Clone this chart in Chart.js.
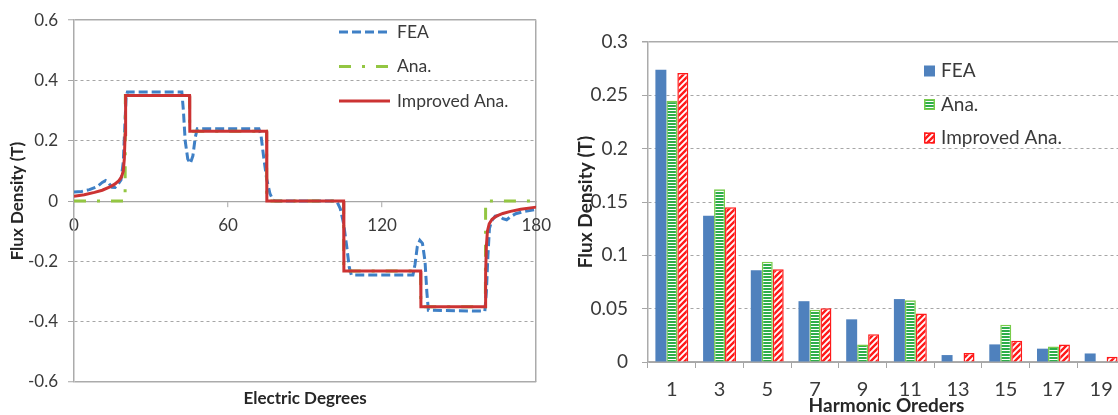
<!DOCTYPE html>
<html>
<head>
<meta charset="utf-8">
<script src="https://cdn.jsdelivr.net/npm/chart.js@4.4.1/dist/chart.umd.min.js"></script>
<style>
  html, body { margin: 0; padding: 0; background: #fff; overflow: hidden; width: 1118px; height: 415px; }
  .panel { position: absolute; top: 0; }
  #left-panel { left: 0; }
  #right-panel { left: 560px; }
</style>
</head>
<body>
<div class="panel" id="left-panel"><canvas id="waveChart" width="560" height="415"></canvas></div>
<div class="panel" id="right-panel"><canvas id="harmChart" width="575" height="415"></canvas></div>

<script>
// --------- Data: flux density waveform ---------
const degTicks = [0, 60, 120, 180];
const fluxTicks = [-0.6, -0.4, -0.2, 0, 0.2, 0.4, 0.6];

const feaDeg = [0, 3, 6, 9, 11, 12.3, 13.5, 14.8, 16, 17.3, 18.3, 19.2, 19.8, 20.3, 20.8, 42, 42.6, 43.3, 44.3, 45.3, 46.3, 47.2, 48,
  72, 72.8, 73.8, 75, 76.3, 77.5, 78.5, 101.5, 102.5, 103.7, 105, 106.2, 107.2, 108,
  132, 132.8, 133.7, 134.7, 135.7, 136.7, 137.4, 138, 160, 160.6, 161.2, 161.8, 162.7, 164, 165.5, 167, 168.5, 170, 172, 175, 180];
const feaVal = [0.030, 0.032, 0.038, 0.048, 0.062, 0.068, 0.060, 0.046, 0.045, 0.058, 0.070, 0.13, 0.25, 0.345, 0.362, 0.362, 0.30, 0.20, 0.14, 0.125, 0.15, 0.21, 0.24,
  0.24, 0.22, 0.15, 0.075, 0.025, 0.003, 0, 0, -0.003, -0.025, -0.075, -0.15, -0.22, -0.245,
  -0.245, -0.21, -0.15, -0.13, -0.14, -0.20, -0.30, -0.362, -0.365, -0.30, -0.18, -0.09, -0.065, -0.05, -0.048, -0.058, -0.062, -0.052, -0.042, -0.035, -0.028];

const anaDeg = [0, 19.9, 20, 45, 45.05, 75, 75.05, 105, 105.05, 135, 135.05, 160.2, 160.3, 180];
const anaVal = [0, 0, 0.35, 0.35, 0.232, 0.232, 0, 0, -0.232, -0.232, -0.35, -0.35, 0, 0];

const impDeg = [0, 4, 8, 11, 14, 16, 17.5, 18.5, 19.2, 19.6, 19.9, 20.1, 45, 45.1, 75, 75.1, 105, 105.1, 135, 135.1,
  160.1, 160.3, 160.6, 161, 161.7, 162.8, 164.5, 167, 170, 174, 180];
const impVal = [0.016, 0.021, 0.029, 0.036, 0.047, 0.057, 0.068, 0.08, 0.10, 0.14, 0.22, 0.35, 0.35, 0.232, 0.232, 0, 0, -0.232, -0.232, -0.35,
  -0.35, -0.24, -0.15, -0.10, -0.075, -0.06, -0.05, -0.041, -0.034, -0.027, -0.02];

// --------- Data: harmonic spectrum ---------
const harmonics = ["1", "3", "5", "7", "9", "11", "13", "15", "17", "19"];
const ampTicks = [0, 0.05, 0.1, 0.15, 0.2, 0.25, 0.3];
const feaAmp = [0.274, 0.137, 0.086, 0.057, 0.040, 0.059, 0.0065, 0.0165, 0.0125, 0.008];
const anaAmp = [0.245, 0.162, 0.094, 0.049, 0.0165, 0.058, 0.0005, 0.035, 0.0145, 0.0005];
const impAmp = [0.271, 0.145, 0.087, 0.0505, 0.026, 0.0455, 0.0085, 0.020, 0.0165, 0.005];

const toPoints = (xs, ys) => xs.map((x, i) => ({ x: x, y: ys[i] }));

Chart.defaults.font.family = "Lato";
Chart.defaults.color = "#3A3A3A";
Chart.defaults.animation = false;

const GRID = "#A6A6A6";
const FRAME = "#ABABAB";

// --------- Legend drawn inside the plot ---------
const insideLegend = {
  id: "insideLegend",
  afterDraw(chart, args, opts) {
    const ctx = chart.ctx;
    ctx.save();
    ctx.textBaseline = "middle";
    ctx.font = opts.size + "px Lato";
    chart.data.datasets.forEach((ds, i) => {
      const y = opts.y + i * opts.dy;
      if (opts.kind === "line") {
        ctx.strokeStyle = ds.borderColor;
        ctx.lineWidth = ds.borderWidth;
        ctx.setLineDash(ds.borderDash || []);
        ctx.beginPath();
        ctx.moveTo(opts.x, y);
        ctx.lineTo(opts.x + opts.w, y);
        ctx.stroke();
        ctx.setLineDash([]);
      } else {
        ctx.fillStyle = ds.backgroundColor;
        ctx.fillRect(opts.x, y - opts.w / 2, opts.w, opts.w);
        if (ds.borderWidth) {
          ctx.strokeStyle = ds.borderColor;
          ctx.lineWidth = 1.5;
          ctx.strokeRect(opts.x + 0.75, y - opts.w / 2 + 0.75, opts.w - 1.5, opts.w - 1.5);
        }
      }
      ctx.fillStyle = "#3A3A3A";
      ctx.fillText(ds.label, opts.x + opts.w + opts.gap, y);
    });
    ctx.restore();
  }
};

// --------- Bar fill patterns ---------
function makePattern(w, h, draw) {
  const c = document.createElement("canvas");
  c.width = w;
  c.height = h;
  const g = c.getContext("2d");
  draw(g, w, h);
  return g.createPattern(c, "repeat");
}

const greenStripes = makePattern(4, 3, (g, w, h) => {
  g.fillStyle = "#fff";
  g.fillRect(0, 0, w, h);
  g.fillStyle = "#2EAE4A";
  g.fillRect(0, 0, w, 2);
});

const redStripes = makePattern(6, 6, (g, w, h) => {
  g.fillStyle = "#fff";
  g.fillRect(0, 0, w, h);
  g.strokeStyle = "#FF1A1A";
  g.lineWidth = 2.4;
  g.beginPath();
  g.moveTo(-1, h + 1); g.lineTo(w + 1, -1);
  g.moveTo(-1, 1); g.lineTo(1, -1);
  g.moveTo(w - 1, h + 1); g.lineTo(w + 1, h - 1);
  g.stroke();
});

// --------- Left: waveform ---------
new Chart(document.getElementById("waveChart"), {
  type: "line",
  data: {
    datasets: [
      { label: "FEA", data: toPoints(feaDeg, feaVal), borderColor: "#3F80C6", borderWidth: 3, borderDash: [9, 4], order: 3 },
      { label: "Ana.", data: toPoints(anaDeg, anaVal), borderColor: "#93C642", borderWidth: 3, borderDash: [12, 11, 3, 11], order: 2 },
      { label: "Improved Ana.", data: toPoints(impDeg, impVal), borderColor: "#CC3333", borderWidth: 3, order: 1 }
    ]
  },
  options: {
    responsive: false,
    devicePixelRatio: 1,
    layout: { padding: { left: 0, right: 21, top: 20, bottom: 0 } },
    elements: { point: { radius: 0 }, line: { tension: 0 } },
    plugins: {
      legend: { display: false },
      tooltip: { enabled: false },
      insideLegend: { kind: "line", x: 339, y: 32, dy: 34.5, w: 51, gap: 7, size: 17.5 }
    },
    scales: {
      x: {
        type: "linear",
        position: { y: 0 },
        min: 0,
        max: 180,
        afterBuildTicks: s => { s.ticks = degTicks.map(v => ({ value: v })); },
        ticks: { font: { size: 17 }, padding: 9, maxRotation: 0, callback: v => String(v) },
        grid: {
          color: c => (c.tick && c.tick.value === 180 ? FRAME : "rgba(0,0,0,0)"),
          lineWidth: 1.5,
          tickColor: GRID,
          tickWidth: 1,
          tickLength: 5
        },
        border: { color: GRID, width: 1.2 }
      },
      x2: {
        type: "linear",
        position: "bottom",
        ticks: { display: false },
        grid: { display: false },
        border: { display: false },
        title: { display: true, text: "Electric Degrees", color: "#262626", font: { size: 17, weight: "bold", lineHeight: 1 }, padding: { top: 0, bottom: 8 } },
        afterFit: s => { s.height = 33; }
      },
      y: {
        type: "linear",
        min: -0.6,
        max: 0.6,
        afterBuildTicks: s => { s.ticks = fluxTicks.map(v => ({ value: v })); },
        afterFit: s => { s.width = 74; },
        ticks: { font: { size: 17 }, padding: 10, callback: v => String(v) },
        grid: { color: c => (c.tick && Math.abs(c.tick.value) === 0.6 ? FRAME : GRID), lineWidth: c => (c.tick && Math.abs(c.tick.value) === 0.6 ? 1.5 : 1), tickColor: GRID, tickWidth: 1, tickLength: 6 },
        border: { color: FRAME, width: 1.5, dash: c => (c.tick && c.tick.value !== 0 && Math.abs(c.tick.value) !== 0.6 ? [3, 3] : []) },
        title: { display: true, text: "Flux Density (T)", color: "#262626", font: { size: 17, weight: "bold" }, padding: { top: 7, bottom: 0 } }
      }
    }
  },
  plugins: [insideLegend]
});

// --------- Right: harmonic spectrum ---------
new Chart(document.getElementById("harmChart"), {
  type: "bar",
  data: {
    labels: harmonics,
    datasets: [
      { label: "FEA", data: feaAmp, backgroundColor: "#4F81BD", borderWidth: 0 },
      { label: "Ana.", data: anaAmp, backgroundColor: greenStripes, borderColor: "#78CC4A", borderWidth: 1.5 },
      { label: "Improved Ana.", data: impAmp, backgroundColor: redStripes, borderColor: "#FF1A1A", borderWidth: 1.5 }
    ]
  },
  options: {
    responsive: false,
    devicePixelRatio: 1,
    layout: { padding: { left: 0, right: 10, top: 42, bottom: 0 } },
    datasets: { bar: { categoryPercentage: 0.69, barPercentage: 1 } },
    plugins: {
      legend: { display: false },
      tooltip: { enabled: false },
      insideLegend: { kind: "box", x: 364, y: 71, dy: 33.5, w: 11, gap: 6, size: 19 }
    },
    scales: {
      x: {
        ticks: { font: { size: 20 }, padding: 10, maxRotation: 0 },
        grid: { drawOnChartArea: false, color: GRID, tickLength: 6 },
        border: { color: FRAME, width: 1.2 },
        title: { display: true, text: "Harmonic Oreders", color: "#262626", font: { size: 19, weight: "bold", lineHeight: 1 }, padding: { top: 0, bottom: 0 } },
        afterFit: s => { s.height = 53; }
      },
      y: {
        min: 0,
        max: 0.3,
        afterBuildTicks: s => { s.ticks = ampTicks.map(v => ({ value: v })); },
        afterFit: s => { s.width = 88; },
        ticks: { font: { size: 19 }, padding: 14, callback: v => String(v) },
        grid: { color: c => (c.tick && c.tick.value === 0.3 ? FRAME : GRID), lineWidth: c => (c.tick && c.tick.value === 0.3 ? 1.5 : 1), tickColor: GRID, tickLength: 6 },
        border: { color: FRAME, width: 1.5, dash: c => (c.tick && c.tick.value !== 0 && c.tick.value !== 0.3 ? [3, 3] : []) },
        title: { display: true, text: "Flux Density (T)", color: "#262626", font: { size: 19, weight: "bold" }, padding: { top: 14, bottom: 0 } }
      }
    }
  },
  plugins: [insideLegend]
});
</script>
</body>
</html>
